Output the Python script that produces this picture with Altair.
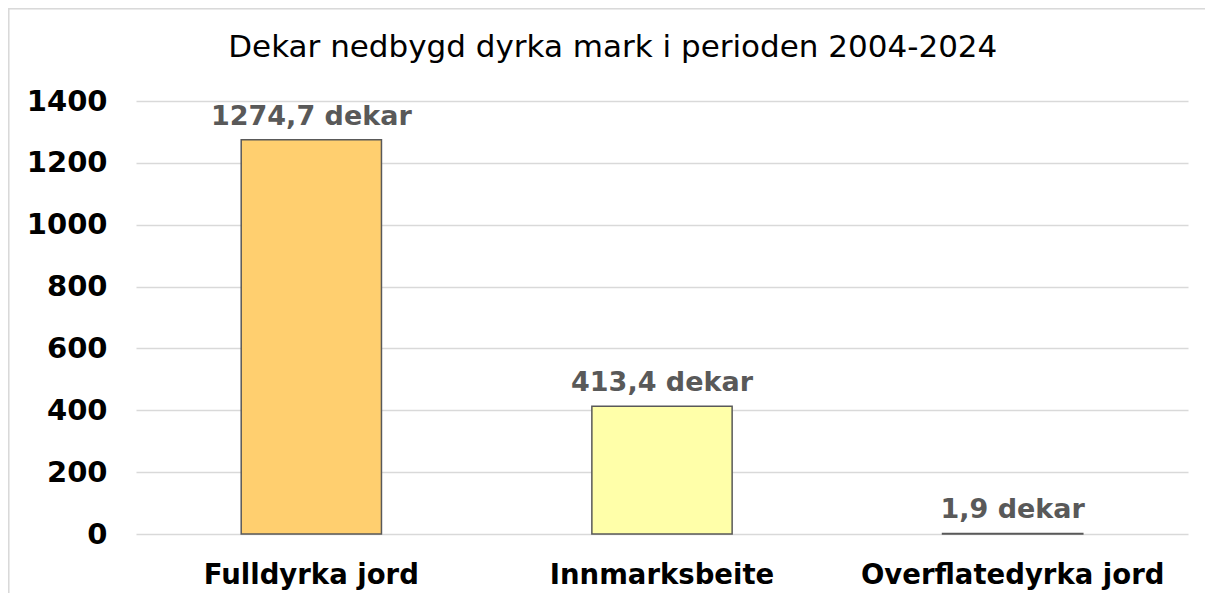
import altair as alt
import pandas as pd

categories = ["Fulldyrka jord", "Innmarksbeite", "Overflatedyrka jord"]
values = [1274.7, 413.4, 1.9]
colors = ["#FFCF6F", "#FFFFA9", "#FFE699"]
y_ticks = [0, 200, 400, 600, 800, 1000, 1200, 1400]
title_text = "Dekar nedbygd dyrka mark i perioden 2004-2024"

df = pd.DataFrame({
    "kategori": categories,
    "dekar": values,
    "farge": colors,
    "etikett": [f"{v:.1f}".replace(".", ",") + " dekar" for v in values],
})

W, H = 1052, 433
PL, PT, PR, PB = 128, 93, 17, 59
FONT = "DejaVu Sans"

x_enc = alt.X("kategori:N", sort=categories,
              scale=alt.Scale(paddingInner=0.6, paddingOuter=0.3),
              axis=alt.Axis(title=None, labelAngle=0, ticks=False, domain=False,
                            labelLimit=0,
                            labelFont=FONT, labelFontSize=27.5, labelFontWeight="bold",
                            labelColor="#000000", labelPadding=27))
y_enc = alt.Y("dekar:Q", scale=alt.Scale(domain=[0, 1400], nice=False),
              axis=alt.Axis(title=None, values=y_ticks, ticks=False, domain=False,
                            format="d",
                            gridColor="#d9d9d9", gridWidth=1.5,
                            labelFont=FONT, labelFontSize=29, labelFontWeight="bold",
                            labelColor="#000000", labelPadding=29))

base = alt.Chart(df)

frame = base.mark_rect(fill=None, stroke="#d9d9d9", strokeWidth=1.5).encode(
    x=alt.value(-PL + 0.5), x2=alt.value(W + PR + 12),
    y=alt.value(-PT + 0.5), y2=alt.value(H + PB + 12),
)

bars = base.mark_bar(stroke="#595959", strokeWidth=1.5).encode(
    x=x_enc, y=y_enc,
    color=alt.Color("farge:N", scale=None, legend=None),
)

labels = base.mark_text(font=FONT, fontSize=27, fontWeight="bold", color="#595959",
                        baseline="alphabetic", dy=-15).encode(
    x=alt.X("kategori:N", sort=categories), y="dekar:Q", text="etikett:N",
)

chart = alt.layer(frame, bars, labels).properties(
    width=W, height=H,
    title=alt.TitleParams(title_text, anchor="middle", frame="bounds",
                          font=FONT, fontSize=31, fontWeight="normal",
                          color="#000000", offset=0, dy=56),
    autosize=alt.AutoSizeParams(type="none"),
    padding={"left": PL, "top": PT, "right": PR, "bottom": PB},
).configure(background="#ffffff").configure_view(stroke=None)

chart.save("out.html", embed_options={"renderer": "svg", "actions": False})
